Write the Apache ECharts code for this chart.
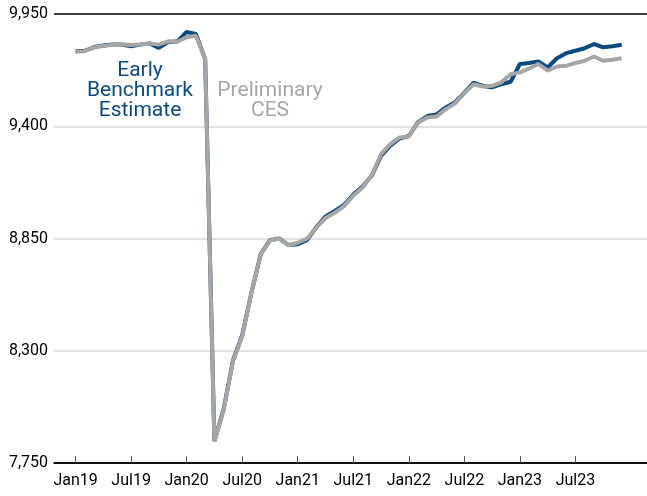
<!DOCTYPE html>
<html lang="en">
<head>
    <meta charset="UTF-8">
    <title>Early Benchmark vs Preliminary CES</title>
    <style>
        html, body { margin: 0; padding: 0; background: #fff; }
    </style>
</head>
<body>
    <div id="chart" style="width: 647px;height:496px;"></div>
</body>
</html>
<script src="https://cdn.jsdelivr.net/npm/echarts@6/dist/echarts.min.js"></script>
<script type="text/javascript">
    // month index 0 = Jan 2019 ... 59 = Dec 2023
    const tickMonths = [0, 6, 12, 18, 24, 30, 36, 42, 48, 54];
    const tickLabels = ['Jan19', 'Jul19', 'Jan20', 'Jul20', 'Jan21', 'Jul21', 'Jan22', 'Jul22', 'Jan23', 'Jul23'];

    const benchmark = [
        9768, 9770, 9788, 9796, 9800, 9800, 9792, 9800, 9806, 9784, 9812, 9816,
        9862, 9852, 9729, 7858, 8015, 8252, 8375, 8585, 8773, 8842, 8850, 8818,
        8822, 8842, 8905, 8958, 8985, 9015, 9065, 9105, 9158, 9255, 9305, 9340,
        9352, 9420, 9450, 9458, 9492, 9518, 9565, 9614, 9598, 9590, 9606, 9618,
        9705, 9710, 9718, 9688, 9733, 9758, 9770, 9782, 9803, 9787, 9792, 9799
    ];
    const preliminary = [
        9765, 9768, 9786, 9794, 9798, 9802, 9798, 9801, 9805, 9800, 9816, 9814,
        9836, 9844, 9729, 7855, 8010, 8247, 8370, 8583, 8771, 8840, 8849, 8817,
        8829, 8849, 8903, 8950, 8976, 9009, 9060, 9100, 9160, 9263, 9312, 9345,
        9350, 9418, 9443, 9448, 9484, 9512, 9562, 9606, 9595, 9598, 9615, 9655,
        9664, 9683, 9705, 9672, 9693, 9696, 9710, 9721, 9742, 9721, 9726, 9733
    ];

    const chart = echarts.init(document.getElementById('chart'));

    const toPairs = arr => arr.map((v, i) => [i, v]);
    const font = 'Roboto, "Noto Sans", sans-serif';

    chart.setOption({
        animation: false,
        grid: { left: 54, right: 0, top: 14, bottom: 33 },
        xAxis: {
            type: 'value',
            min: -2.33,
            max: 61.73,
            axisLine: { lineStyle: { color: '#000', width: 1.5 } },
            axisTick: {
                inside: true,
                length: 7,
                customValues: tickMonths,
                lineStyle: { color: '#555' }
            },
            axisLabel: {
                customValues: tickMonths,
                formatter: v => tickLabels[tickMonths.indexOf(v)] || '',
                color: '#000',
                fontFamily: font,
                fontSize: 16,
                margin: 10
            },
            splitLine: { show: false }
        },
        yAxis: {
            type: 'value',
            min: 7750,
            max: 9950,
            interval: 550,
            axisLine: { show: false },
            axisTick: { show: false },
            axisLabel: {
                formatter: v => v.toLocaleString('en-US'),
                color: '#000',
                fontFamily: font,
                fontSize: 16,
                margin: 6
            },
            splitLine: {
                lineStyle: { color: ['#000', '#d9d9d9', '#d9d9d9', '#d9d9d9', '#000'], width: 1.5 }
            }
        },
        series: [
            {
                name: 'Early Benchmark Estimate',
                type: 'line',
                data: toPairs(benchmark),
                symbol: 'none',
                lineStyle: { color: '#0b4a80', width: 4 },
                z: 2
            },
            {
                name: 'Preliminary CES',
                type: 'line',
                data: toPairs(preliminary),
                symbol: 'none',
                lineStyle: { color: '#a6a6a6', width: 4 },
                z: 3
            }
        ],
        graphic: [
            {
                type: 'text',
                x: 140, y: 61,
                style: {
                    text: 'Early\nBenchmark\nEstimate',
                    fill: '#0b4a80',
                    font: '21px ' + font,
                    align: 'center',
                    verticalAlign: 'top',
                    lineHeight: 20
                },
                z: 10
            },
            {
                type: 'text',
                x: 270, y: 81,
                style: {
                    text: 'Preliminary\nCES',
                    fill: '#a6a6a6',
                    font: '21px ' + font,
                    align: 'center',
                    verticalAlign: 'top',
                    lineHeight: 20
                },
                z: 10
            }
        ]
    });
</script>
